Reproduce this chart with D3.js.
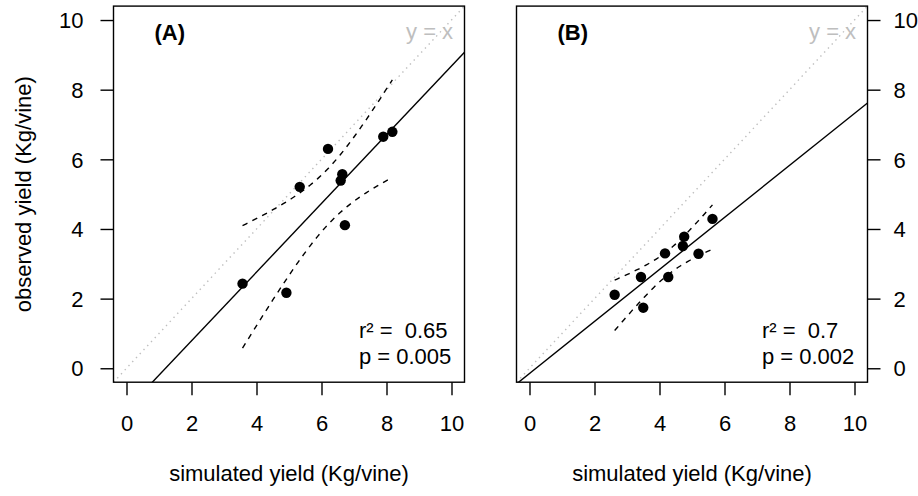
<!DOCTYPE html>
<head>
    <meta charset="utf-8">
    <script src="https://d3js.org/d3.v7.min.js"></script>
    <style>
        body { margin: 0; background: #fff; }
        text { font-family: "Liberation Sans", Arial, Helvetica, sans-serif; }
    </style>
</head>
<body>
<svg width="918" height="496"></svg>

<script>

    // values
    var simA = [6.20, 5.33, 6.64, 6.59, 7.90, 8.18, 6.72, 3.57, 4.92];
    var obsA = [6.30, 5.21, 5.57, 5.39, 6.65, 6.79, 4.11, 2.43, 2.17];
    var simB = [5.63, 4.76, 4.72, 4.17, 5.20, 3.43, 4.27, 2.62, 3.50];
    var obsB = [4.29, 3.78, 3.51, 3.30, 3.29, 2.62, 2.62, 2.11, 1.74];
    var axisTicks = [0, 2, 4, 6, 8, 10];
    var panelNames = ["(A)", "(B)"];
    var statsA = ["r\u00b2 =  0.65", "p = 0.005"];
    var statsB = ["r\u00b2 =  0.7", "p = 0.002"];

    var svg = d3.select("svg");
    svg.append("rect").attr("width", 918).attr("height", 496).attr("fill", "#fff");

    var fs = 22,
        plotTop = 6.1, plotBottom = 382.2,
        domain = [-0.4, 10.4],
        tQ = 2.3646; // t(0.975, df = 7)

    var y = d3.scaleLinear().domain(domain).range([plotBottom, plotTop]);

    function drawPanel(id, left, right, sim, obs, name, stats, axisSide) {
        var x = d3.scaleLinear().domain(domain).range([left, right]);
        var g = svg.append("g");

        g.append("clipPath").attr("id", "clip" + id)
            .append("rect")
            .attr("x", left).attr("y", plotTop)
            .attr("width", right - left).attr("height", plotBottom - plotTop);

        var plot = g.append("g").attr("clip-path", "url(#clip" + id + ")");

        // y = x reference
        plot.append("line")
            .attr("x1", x(domain[0])).attr("y1", y(domain[0]))
            .attr("x2", x(domain[1])).attr("y2", y(domain[1]))
            .attr("stroke", "#bebebe").attr("stroke-width", 1.4)
            .attr("stroke-dasharray", "1.4,4.1");

        // linear fit of observed on simulated
        var n = sim.length,
            mx = d3.mean(sim), my = d3.mean(obs),
            sxx = d3.sum(sim, function(v) { return (v - mx) * (v - mx); }),
            sxy = d3.sum(sim, function(v, i) { return (v - mx) * (obs[i] - my); }),
            b = sxy / sxx,
            a = my - b * mx,
            rss = d3.sum(sim, function(v, i) { var e = obs[i] - a - b * v; return e * e; }),
            s = Math.sqrt(rss / (n - 2));

        plot.append("line")
            .attr("x1", x(domain[0])).attr("y1", y(a + b * domain[0]))
            .attr("x2", x(domain[1])).attr("y2", y(a + b * domain[1]))
            .attr("stroke", "#000").attr("stroke-width", 1.4);

        // 95% confidence band of the fit
        var xs = d3.range(0, 41).map(function(k) {
            return d3.min(sim) + k * (d3.max(sim) - d3.min(sim)) / 40;
        });
        [-1, 1].forEach(function(sign) {
            plot.append("path")
                .datum(xs)
                .attr("fill", "none")
                .attr("stroke", "#000").attr("stroke-width", 1.4)
                .attr("stroke-dasharray", "5.5,5.5")
                .attr("d", d3.line()
                    .x(function(v) { return x(v); })
                    .y(function(v) {
                        var se = s * Math.sqrt(1 / n + (v - mx) * (v - mx) / sxx);
                        return y(a + b * v + sign * tQ * se);
                    }));
        });

        // points
        g.append("g").selectAll("circle")
            .data(sim)
            .enter()
            .append("circle")
            .attr("cx", function(d) { return x(d); })
            .attr("cy", function(d, i) { return y(obs[i]); })
            .attr("r", 5.2)
            .attr("fill", "#000");

        // box
        g.append("rect")
            .attr("x", left).attr("y", plotTop)
            .attr("width", right - left).attr("height", plotBottom - plotTop)
            .attr("fill", "none").attr("stroke", "#000").attr("stroke-width", 1.4);

        // x axis
        var xa = g.append("g")
            .attr("transform", "translate(0," + plotBottom + ")")
            .call(d3.axisBottom(x).tickValues(axisTicks).tickSize(13).tickPadding(0).tickFormat(d3.format("d")));
        xa.select(".domain").remove();
        xa.selectAll("line").attr("stroke", "#000").attr("stroke-width", 1.4);
        xa.selectAll("text")
            .attr("y", 431 - plotBottom).attr("dy", null)
            .attr("font-size", fs).attr("fill", "#000");

        // y axis
        var ya;
        if (axisSide === "left") {
            ya = g.append("g")
                .attr("transform", "translate(" + left + ",0)")
                .call(d3.axisLeft(y).tickValues(axisTicks).tickSize(13).tickPadding(17).tickFormat(d3.format("d")));
        } else {
            ya = g.append("g")
                .attr("transform", "translate(" + right + ",0)")
                .call(d3.axisRight(y).tickValues(axisTicks).tickSize(13).tickPadding(13).tickFormat(d3.format("d")));
        }
        ya.select(".domain").remove();
        ya.selectAll("line").attr("stroke", "#000").attr("stroke-width", 1.4);
        ya.selectAll("text").attr("font-size", fs).attr("fill", "#000").attr("dy", "0.35em");

        // annotations
        g.append("text")
            .attr("x", x(1.33)).attr("y", 39.5)
            .attr("text-anchor", "middle")
            .attr("font-size", fs).attr("font-weight", "bold")
            .text(name);

        g.append("text")
            .attr("x", x(10.05)).attr("y", 38.5)
            .attr("text-anchor", "end")
            .attr("font-size", fs).attr("fill", "#bebebe")
            .text("y = x");

        g.selectAll(".stat")
            .data(stats)
            .enter()
            .append("text")
            .attr("x", x(7.15))
            .attr("y", function(d, i) { return 338 + i * 26.4; })
            .attr("font-size", fs)
            .style("white-space", "pre")
            .text(function(d) { return d; });

        // x title
        g.append("text")
            .attr("x", (left + right) / 2).attr("y", 481)
            .attr("text-anchor", "middle")
            .attr("font-size", fs)
            .text("simulated yield (Kg/vine)");
    }

    drawPanel("A", 113.5, 464.5, simA, obsA, panelNames[0], statsA, "left");
    drawPanel("B", 516.5, 867.5, simB, obsB, panelNames[1], statsB, "right");

    svg.append("text")
        .attr("transform", "translate(23," + ((plotTop + plotBottom) / 2) + ") rotate(-90)")
        .attr("dy", "0.35em")
        .attr("text-anchor", "middle")
        .attr("font-size", fs)
        .text("observed yield (Kg/vine)");

</script>
</body>
